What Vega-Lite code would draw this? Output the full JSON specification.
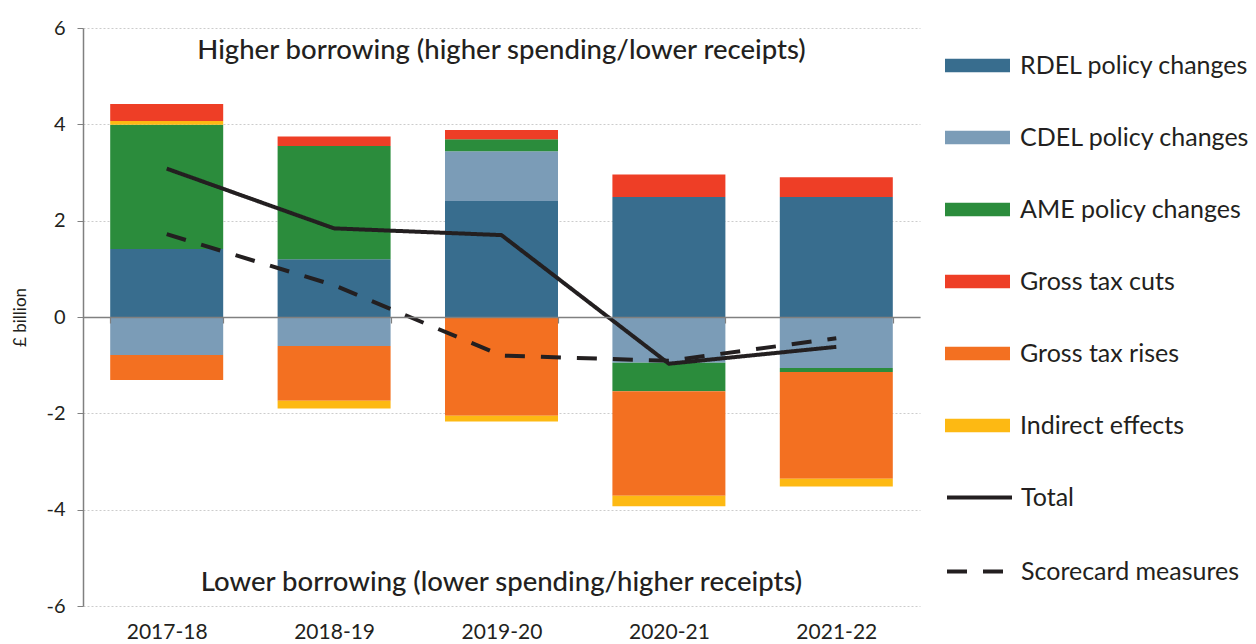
{
  "$schema": "https://vega.github.io/schema/vega-lite/v6.json",
  "width": 837,
  "height": 578,
  "autosize": {"type": "none"},
  "padding": {"left": 83, "top": 28, "right": 336, "bottom": 38},
  "config": {"view": {"stroke": null}, "font": "Lato", "axis": {"labelFont": "Lato", "titleFont": "Lato"}, "legend": {"labelFont": "Lato", "padding": 0}},
  "datasets": {
    "bars": [
      {"year": "2017-18", "series": "RDEL policy changes", "value": 1.41},
      {"year": "2017-18", "series": "CDEL policy changes", "value": -0.79},
      {"year": "2017-18", "series": "AME policy changes", "value": 2.58},
      {"year": "2017-18", "series": "Gross tax cuts", "value": 0.35},
      {"year": "2017-18", "series": "Gross tax rises", "value": -0.52},
      {"year": "2017-18", "series": "Indirect effects", "value": 0.08},
      {"year": "2018-19", "series": "RDEL policy changes", "value": 1.2},
      {"year": "2018-19", "series": "CDEL policy changes", "value": -0.6},
      {"year": "2018-19", "series": "AME policy changes", "value": 2.35},
      {"year": "2018-19", "series": "Gross tax cuts", "value": 0.2},
      {"year": "2018-19", "series": "Gross tax rises", "value": -1.14},
      {"year": "2018-19", "series": "Indirect effects", "value": -0.16},
      {"year": "2019-20", "series": "RDEL policy changes", "value": 2.41},
      {"year": "2019-20", "series": "CDEL policy changes", "value": 1.03},
      {"year": "2019-20", "series": "AME policy changes", "value": 0.25},
      {"year": "2019-20", "series": "Gross tax cuts", "value": 0.19},
      {"year": "2019-20", "series": "Gross tax rises", "value": -2.05},
      {"year": "2019-20", "series": "Indirect effects", "value": -0.12},
      {"year": "2020-21", "series": "RDEL policy changes", "value": 2.49},
      {"year": "2020-21", "series": "CDEL policy changes", "value": -0.95},
      {"year": "2020-21", "series": "AME policy changes", "value": -0.59},
      {"year": "2020-21", "series": "Gross tax cuts", "value": 0.47},
      {"year": "2020-21", "series": "Gross tax rises", "value": -2.17},
      {"year": "2020-21", "series": "Indirect effects", "value": -0.22},
      {"year": "2021-22", "series": "RDEL policy changes", "value": 2.49},
      {"year": "2021-22", "series": "CDEL policy changes", "value": -1.06},
      {"year": "2021-22", "series": "AME policy changes", "value": -0.08},
      {"year": "2021-22", "series": "Gross tax cuts", "value": 0.41},
      {"year": "2021-22", "series": "Gross tax rises", "value": -2.22},
      {"year": "2021-22", "series": "Indirect effects", "value": -0.16}
    ],
    "lines": [
      {"year": "2017-18", "line": "Total", "value": 3.08},
      {"year": "2018-19", "line": "Total", "value": 1.84},
      {"year": "2019-20", "line": "Total", "value": 1.7},
      {"year": "2020-21", "line": "Total", "value": -0.97},
      {"year": "2021-22", "line": "Total", "value": -0.62},
      {"year": "2017-18", "line": "Scorecard measures", "value": 1.72},
      {"year": "2018-19", "line": "Scorecard measures", "value": 0.66},
      {"year": "2019-20", "line": "Scorecard measures", "value": -0.8},
      {"year": "2020-21", "line": "Scorecard measures", "value": -0.91},
      {"year": "2021-22", "line": "Scorecard measures", "value": -0.44}
    ],
    "notes": [
      {"year": "2019-20", "value": 5.52, "label": "Higher borrowing (higher spending/lower receipts)"},
      {"year": "2019-20", "value": -5.52, "label": "Lower borrowing (lower spending/higher receipts)"}
    ]
  },
  "encoding": {
    "x": {
      "field": "year", "type": "nominal", "sort": null,
      "scale": {"paddingInner": 0.325, "paddingOuter": 0.1625},
      "axis": {"title": null, "labelAngle": 0, "offset": -289, "zindex": 1, "domainColor": "#808080", "domainWidth": 1.5, "tickColor": "#808080", "tickWidth": 1.2, "tickSize": 6, "tickBand": "extent", "labelPadding": 298, "labelFontSize": 21, "labelColor": "#231f20"}
    },
    "y": {
      "field": "value", "type": "quantitative",
      "scale": {"domain": [-6, 6], "nice": false, "zero": false},
      "axis": {"title": "£ billion", "titleFontSize": 17, "titleFontWeight": "normal", "titleColor": "#231f20", "titlePadding": 16, "values": [-6, -4, -2, 0, 2, 4, 6], "labelExpr": "datum.value + ''", "labelFontSize": 20, "labelColor": "#231f20", "labelPadding": 12, "domainColor": "#808080", "domainWidth": 1.5, "tickColor": "#808080", "tickSize": 6, "grid": true, "gridColor": "#cccccc", "gridDash": [2, 2], "gridWidth": 1}
    }
  },
  "layer": [
    {
      "data": {"name": "bars"},
      "transform": [{"calculate": "indexof(['RDEL policy changes','CDEL policy changes','AME policy changes','Gross tax rises','Indirect effects','Gross tax cuts'], datum.series)", "as": "k"}],
      "mark": {"type": "bar"},
      "encoding": {
        "color": {
          "field": "series", "type": "nominal",
          "scale": {"domain": ["RDEL policy changes", "CDEL policy changes", "AME policy changes", "Gross tax cuts", "Gross tax rises", "Indirect effects"], "range": ["#386d8e", "#7b9cb7", "#2b8c3c", "#ee3e26", "#f37021", "#fdb913"]},
          "legend": {"title": null, "orient": "none", "legendX": 862, "legendY": 5, "symbolType": "M-1,-0.21H1V0.21H-1Z", "symbolSize": 4225, "symbolStrokeWidth": 0, "symbolOpacity": 1, "labelFontSize": 25, "labelColor": "#231f20", "labelOffset": 10, "rowPadding": 26, "labelLimit": 400}
        },
        "order": {"field": "k", "type": "quantitative"}
      }
    },
    {
      "data": {"name": "lines"},
      "mark": {"type": "line", "strokeWidth": 4, "color": "#231f20"},
      "encoding": {
        "strokeDash": {
          "field": "line", "type": "nominal",
          "scale": {"domain": ["Total", "Scorecard measures"], "range": [[1, 0], [20, 16]]},
          "legend": {"title": null, "orient": "none", "legendX": 862, "legendY": 435, "symbolType": "stroke", "symbolSize": 4225, "symbolStrokeWidth": 4, "symbolStrokeColor": "#231f20", "labelFontSize": 25, "labelColor": "#231f20", "labelOffset": 7, "rowPadding": 26, "labelLimit": 400}
        }
      }
    },
    {
      "data": {"name": "notes"},
      "mark": {"type": "text", "fontSize": 27.5, "fontWeight": 500, "color": "#231f20", "align": "center", "baseline": "middle"},
      "encoding": {"text": {"field": "label"}}
    }
  ]
}
